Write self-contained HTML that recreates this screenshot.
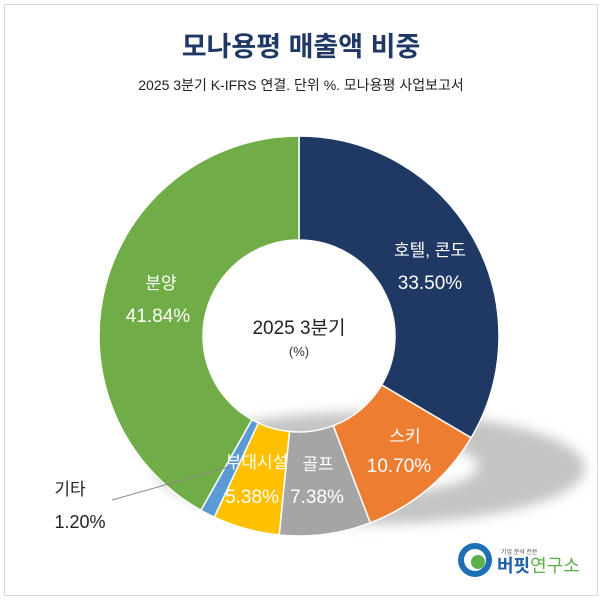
<!DOCTYPE html>
<html><head><meta charset="utf-8"><style>
body{margin:0;background:#fff;}
svg text{font-family:"Liberation Sans","Noto Sans CJK KR",sans-serif;}
</style></head><body>
<svg id="s" width="602" height="600" viewBox="0 0 602 600" xmlns="http://www.w3.org/2000/svg">
<defs><filter id="b" x="-30%" y="-50%" width="160%" height="200%"><feGaussianBlur stdDeviation="6"/></filter></defs>
<rect x="4.5" y="4.5" width="593" height="591" fill="#fff" stroke="#d9d9d9"/>
<text x="301" y="56" text-anchor="middle" font-size="27" font-weight="bold" fill="#1f3864">모나용평 매출액 비중</text>
<text x="301" y="90" text-anchor="middle" font-size="14" fill="#222">2025 3분기 K-IFRS 연결. 단위 %. 모나용평 사업보고서</text>
<path fill-rule="evenodd" fill="#c4c4c4" filter="url(#b)" d="M155,468 a215,56 0 1,0 430,0 a215,56 0 1,0 -430,0 Z M262,466 a108,28 0 1,0 216,0 a108,28 0 1,0 -216,0 Z"/>
<g id="g"></g>
<line x1="112" y1="500" x2="232" y2="466" stroke="#888" stroke-width="1"/>
<g font-size="17" fill="#fff" text-anchor="middle">
<text x="430" y="256">호텔, 콘도</text><text x="430" y="289" font-size="19">33.50%</text>
<text x="161" y="289">분양</text><text x="158" y="322" font-size="19">41.84%</text>
<text x="405" y="442">스키</text><text x="399" y="472" font-size="19">10.70%</text>
<text x="318" y="470">골프</text><text x="317" y="503" font-size="19">7.38%</text>
<text x="257" y="468">부대시설</text><text x="252" y="503" font-size="19">5.38%</text>
</g>
<text x="70" y="495" font-size="17" text-anchor="middle" fill="#222">기타</text>
<text x="80" y="528" font-size="18" text-anchor="middle" fill="#222">1.20%</text>
<text x="299" y="334" font-size="19" text-anchor="middle" fill="#222">2025 3분기</text>
<text x="299" y="356" font-size="13" text-anchor="middle" fill="#333">(%)</text>
<circle cx="475" cy="560" r="14" fill="none" stroke="#1f6fb5" stroke-width="6"/>
<circle cx="478" cy="562" r="7" fill="#5bb04a"/>
<text x="501" y="554" font-size="6" fill="#555">기업 분석 전문</text>
<text x="497" y="572" font-size="18" font-weight="bold" fill="#1f5fa8">버핏<tspan fill="#5bb04a" font-weight="normal">연구소</tspan></text>
</svg>
<script>
var d=[[33.5,"#203864"],[10.7,"#ed7d31"],[7.38,"#a5a5a5"],[5.38,"#ffc000"],[1.2,"#5b9bd5"],[41.84,"#70ad47"]];
var cx=299,cy=336,R=200,r=96,a=0,g=document.getElementById("g"),h="";
function p(rad,ang){return [cx+rad*Math.sin(ang),cy-rad*Math.cos(ang)];}
d.forEach(function(x){var a0=a/100*2*Math.PI;a+=x[0];var a1=a/100*2*Math.PI;var l=(a1-a0)>Math.PI?1:0;
var A=p(R,a0),B=p(R,a1),C=p(r,a1),D=p(r,a0);
h+='<path fill="'+x[1]+'" stroke="#fff" stroke-width="1.5" d="M'+A+' A'+R+','+R+' 0 '+l+',1 '+B+' L'+C+' A'+r+','+r+' 0 '+l+',0 '+D+' Z"/>';});
g.innerHTML=h;
</script>
</body></html>
